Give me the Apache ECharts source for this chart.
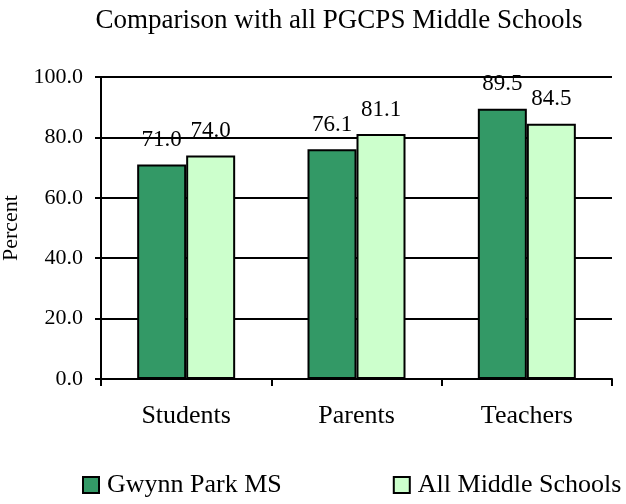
<!DOCTYPE html>
<html><head><meta charset="utf-8">
<script src="https://cdn.jsdelivr.net/npm/echarts@6/dist/echarts.min.js"></script>
<style>html,body{margin:0;padding:0;background:#fff}#c{width:626px;height:504px}</style>
</head><body><div id="c"></div>
<script>
const categories = ['Students', 'Parents', 'Teachers'];
const gwynnPark = [71.0, 76.1, 89.5];
const allMiddle = [74.0, 81.1, 84.5];
const seriesNames = ['Gwynn Park MS', 'All Middle Schools'];
const titleText = 'Comparison with all PGCPS Middle Schools';
const yAxisName = 'Percent';

const FONT = '"Liberation Serif", "Times New Roman", serif';
const chart = echarts.init(document.getElementById('c'), null, {renderer: 'canvas'});
const barStyle = (color) => ({color: color, borderColor: '#000', borderWidth: 2});
const lbl = {show: true, position: 'top', distance: 13, color: '#000', fontFamily: FONT, fontSize: 23,
  formatter: p => p.value.toFixed(1)};
chart.setOption({
  animation: false,
  backgroundColor: '#fff',
  title: {text: titleText, left: 334, textAlign: 'center', top: 2,
    textStyle: {fontFamily: FONT, fontSize: 27, fontWeight: 'normal', color: '#000'}},
  grid: {left: 101, right: 14, top: 77, bottom: 125, containLabel: false, outerBoundsMode: 'none'},
  legend: {top: 472, left: 82, width: 600, padding: 0, itemWidth: 16, itemHeight: 16, itemGap: 111,
    icon: 'rect',
    textStyle: {fontFamily: FONT, fontSize: 26, color: '#000', padding: [0, 0, 0, 3]},
    itemStyle: {borderColor: '#000', borderWidth: 2},
    data: seriesNames},
  xAxis: {type: 'category', data: categories,
    axisLine: {lineStyle: {color: '#000', width: 2}},
    axisTick: {show: true, length: 7, lineStyle: {color: '#000', width: 2}},
    axisLabel: {fontFamily: FONT, fontSize: 26, color: '#000', margin: 24}},
  yAxis: {type: 'value', min: 0, max: 100, interval: 20,
    name: yAxisName, nameLocation: 'middle', nameGap: 72, nameRotate: 90,
    nameTextStyle: {fontFamily: FONT, fontSize: 22, color: '#000'},
    axisLine: {show: true, lineStyle: {color: '#000', width: 2}},
    axisTick: {show: true, length: 6, lineStyle: {color: '#000', width: 2}},
    splitLine: {show: true, lineStyle: {color: '#000', width: 2}},
    axisLabel: {fontFamily: FONT, fontSize: 22, color: '#000', margin: 18,
      formatter: v => v.toFixed(1)}},
  series: [
    {name: seriesNames[0], type: 'bar', data: gwynnPark, barWidth: 49, barGap: '0%',
      itemStyle: barStyle('#339966'), label: lbl},
    {name: seriesNames[1], type: 'bar', data: allMiddle, barWidth: 49, barGap: '0%',
      itemStyle: barStyle('#CCFFCC'), label: lbl}
  ]
});
</script></body></html>
